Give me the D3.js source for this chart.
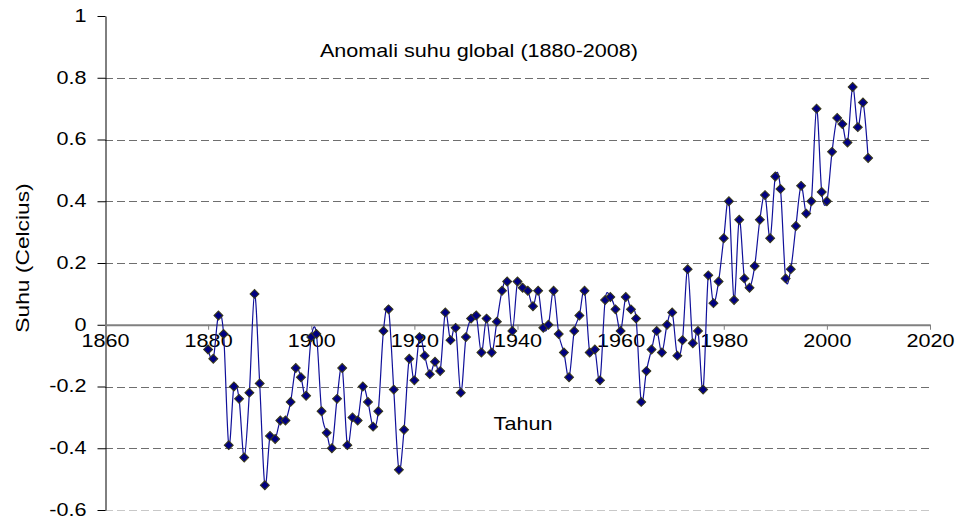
<!DOCTYPE html>
<html>
<head>
<meta charset="utf-8">
<script src="https://cdn.jsdelivr.net/npm/d3@7"></script>
<style>
  html, body { margin: 0; padding: 0; background: #fff; }
  svg { display: block; }
  text { font-family: "Liberation Sans", Arial, sans-serif; fill: #000; }
</style>
</head>
<body>
<div id="chart"></div>
<script>
const years = [1880,1881,1882,1883,1884,1885,1886,1887,1888,1889,1890,1891,1892,1893,1894,1895,1896,1897,1898,1899,
  1900,1901,1902,1903,1904,1905,1906,1907,1908,1909,1910,1911,1912,1913,1914,1915,1916,1917,1918,1919,
  1920,1921,1922,1923,1924,1925,1926,1927,1928,1929,1930,1931,1932,1933,1934,1935,1936,1937,1938,1939,
  1940,1941,1942,1943,1944,1945,1946,1947,1948,1949,1950,1951,1952,1953,1954,1955,1956,1957,1958,1959,
  1960,1961,1962,1963,1964,1965,1966,1967,1968,1969,1970,1971,1972,1973,1974,1975,1976,1977,1978,1979,
  1980,1981,1982,1983,1984,1985,1986,1987,1988,1989,1990,1991,1992,1993,1994,1995,1996,1997,1998,1999,
  2000,2001,2002,2003,2004,2005,2006,2007,2008];
const anomalies = [-0.08,-0.11,0.03,-0.03,-0.39,-0.20,-0.24,-0.43,-0.22,0.10,-0.19,-0.52,-0.36,-0.37,-0.31,-0.31,-0.25,-0.14,-0.17,-0.23,
  -0.04,-0.03,-0.28,-0.35,-0.40,-0.24,-0.14,-0.39,-0.30,-0.31,-0.20,-0.25,-0.33,-0.28,-0.02,0.05,-0.21,-0.47,-0.34,-0.11,
  -0.18,-0.04,-0.10,-0.16,-0.12,-0.15,0.04,-0.05,-0.01,-0.22,-0.04,0.02,0.03,-0.09,0.02,-0.09,0.01,0.11,0.14,-0.02,
  0.14,0.12,0.11,0.06,0.11,-0.01,0.00,0.11,-0.03,-0.09,-0.17,-0.02,0.03,0.11,-0.09,-0.08,-0.18,0.08,0.09,0.05,
  -0.02,0.09,0.05,0.02,-0.25,-0.15,-0.08,-0.02,-0.09,0.00,0.04,-0.10,-0.05,0.18,-0.06,-0.02,-0.21,0.16,0.07,0.14,
  0.28,0.40,0.08,0.34,0.15,0.12,0.19,0.34,0.42,0.28,0.48,0.44,0.15,0.18,0.32,0.45,0.36,0.40,0.70,0.43,
  0.40,0.56,0.67,0.65,0.59,0.77,0.64,0.72,0.54];
const xTicks = [1860,1880,1900,1920,1940,1960,1980,2000,2020];
const yTicks = [-0.6,-0.4,-0.2,0,0.2,0.4,0.6,0.8,1];
const yTickLabels = ["-0.6","-0.4","-0.2","0","0.2","0.4","0.6","0.8","1"];
const gridValues = [-0.6,-0.4,-0.2,0.2,0.4,0.6,0.8];
const titleText = "Anomali suhu global (1880-2008)";
const xTitle = "Tahun";
const yTitle = "Suhu (Celcius)";

const W = 956, H = 523;
const SX = 1.2; // horizontal stretch of the original's text
const svg = d3.select("#chart").append("svg").attr("width", W).attr("height", H);

const x = d3.scaleLinear().domain([1860, 2020]).range([105, 930]);
const y = d3.scaleLinear().domain([-0.6, 1]).range([510, 16]);

// gridlines
svg.append("g").selectAll("line").data(gridValues).join("line")
  .attr("x1", x(1860)).attr("x2", x(2020))
  .attr("y1", d => Math.round(y(d)) + 0.5).attr("y2", d => Math.round(y(d)) + 0.5)
  .attr("stroke", d => d === -0.6 ? "#c8c8c8" : "#6e6e6e")
  .attr("stroke-width", 1)
  .attr("stroke-dasharray", "8,4");

// y axis
const yAxis = svg.append("g")
  .attr("transform", `translate(${x(1860) + 0.5},0)`)
  .call(d3.axisLeft(y).tickValues(yTicks).tickSize(8).tickSizeOuter(0)
    .tickFormat((d, i) => yTickLabels[i]));
yAxis.select(".domain").attr("stroke", "#000");
yAxis.selectAll(".tick line").attr("stroke", "#000");
yAxis.selectAll(".tick text")
  .attr("x", 0).attr("dy", null)
  .attr("font-size", 18)
  .attr("dominant-baseline", "central")
  .attr("text-anchor", "end")
  .attr("transform", `translate(-19,-1) scale(${SX},1)`);

// x axis at zero
const xAxis = svg.append("g")
  .attr("transform", `translate(0,${y(0)})`)
  .call(d3.axisBottom(x).tickValues(xTicks).tickSize(5).tickSizeOuter(0).tickFormat(d3.format("d")));
xAxis.select(".domain").attr("stroke", "#808080").attr("stroke-width", 2);
xAxis.selectAll(".tick line").attr("stroke", "#808080");
xAxis.selectAll(".tick text")
  .attr("y", 0).attr("dy", null)
  .attr("font-size", 18)
  .attr("text-anchor", "middle")
  .attr("transform", `translate(0,22) scale(${SX},1)`);

// series
const data = years.map((yr, i) => ({ year: yr, value: anomalies[i] }));
const line = d3.line().x(d => x(d.year)).y(d => y(d.value)).curve(d3.curveCardinal.tension(0));
svg.append("path").datum(data)
  .attr("d", line)
  .attr("fill", "none")
  .attr("stroke", "#10109a")
  .attr("stroke-width", 1.2);

const diamond = d3.symbol().type(d3.symbolSquare).size(40);
svg.append("g").selectAll("path").data(data).join("path")
  .attr("d", diamond)
  .attr("transform", d => `translate(${x(d.year)},${y(d.value)}) rotate(45)`)
  .attr("fill", "#000080")
  .attr("stroke", "#3a3a1a")
  .attr("stroke-width", 1);

// titles
svg.append("text")
  .attr("transform", `translate(479,57) scale(${SX},1)`)
  .attr("text-anchor", "middle").attr("font-size", 18)
  .text(titleText);

svg.append("text")
  .attr("transform", `translate(523,430) scale(${SX},1)`)
  .attr("text-anchor", "middle").attr("font-size", 18)
  .text(xTitle);

svg.append("text")
  .attr("transform", `translate(29,258) rotate(-90) scale(1.2,1)`)
  .attr("text-anchor", "middle").attr("font-size", 19)
  .text(yTitle);
</script>
</body>
</html>
